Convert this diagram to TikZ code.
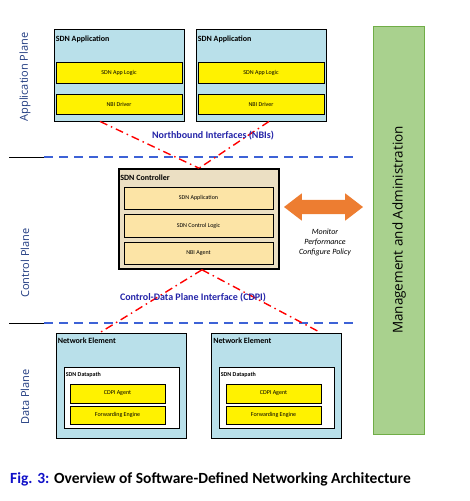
\documentclass[tikz,border=0pt]{standalone}
\usepackage{fontspec}
\setmainfont{Carlito}
\newfontfamily\planefont{Open Sans}
\usetikzlibrary{calc,arrows.meta,shapes.arrows}
\definecolor{appblue}{HTML}{B9E0EA}
\definecolor{ctrltan}{HTML}{EBDFC3}
\definecolor{ctrlbox}{HTML}{FCE4A6}
\definecolor{mgmtgreen}{HTML}{A9D18E}
\definecolor{mgmtedge}{HTML}{70AD47}
\definecolor{arroworange}{HTML}{ED7D31}
\definecolor{dividerblue}{HTML}{3D62D6}
\definecolor{ifaceblue}{HTML}{2424A8}
\definecolor{planeblue}{HTML}{1F3A80}
\definecolor{figblue}{HTML}{1010C8}

\begin{document}
\begin{tikzpicture}[x=1pt,y=-1pt,
  outerbox/.style={draw=black,line width=0.9pt,fill=appblue,inner sep=0pt},
  yelbox/.style={draw=black,line width=0.7pt,fill=yellow,inner sep=0pt,font=\fontsize{6}{7}\selectfont},
  ctrlsub/.style={draw=black,line width=0.7pt,fill=ctrlbox,inner sep=0pt,font=\fontsize{6}{7}\selectfont},
  boxtitle/.style={anchor=north west,inner xsep=2pt,inner ysep=0pt,yshift=-7pt,font=\bfseries\fontsize{8}{9}\selectfont},
  smalltitle/.style={anchor=north west,inner xsep=1.5pt,inner ysep=0pt,yshift=-5pt,font=\bfseries\fontsize{6}{7}\selectfont},
  plane/.style={rotate=90,text=planeblue,font=\planefont\fontsize{11}{12}\selectfont},
  iface/.style={text=ifaceblue,font=\bfseries\fontsize{10}{11}\selectfont},
  divider/.style={dividerblue,line width=1.1pt,dash pattern=on 9pt off 6pt},
  redlink/.style={red,line width=1.4pt,dash pattern=on 8pt off 4pt on 1.5pt off 4pt}]
  \useasboundingbox (0,0) rectangle (469,501);

  % management column
  \node[draw=mgmtedge,line width=0.8pt,fill=mgmtgreen,minimum width=51,minimum height=408,inner sep=0pt] (mgmt) at (399,230) {};
  \node[rotate=90,font=\planefont\fontsize{13.5}{14}\selectfont] at (mgmt.center) {Management and Administration};

  % plane labels and dividers
  \node[plane] (aplane) at (25,77) {Application Plane};
  \node[plane] (cplane) at (25,263) {Control Plane};
  \node[plane] (dplane) at (25,397) {Data Plane};
  \draw[black,line width=0.7pt] (9,157) -- (50,157);
  \draw[divider] (44,157) -- (358,157);
  \draw[black,line width=0.7pt] (9,323) -- (44,323);
  \draw[divider] (44,323) -- (356,323);

  % application plane
  \foreach \n/\cx in {1/119,2/261}{
    \node[outerbox,minimum width=130,minimum height=92] (app\n) at (\cx,75) {};
    \node[boxtitle] at (app\n.north west) {SDN Application};
    \node[yelbox,minimum width=126,minimum height=21] (logic\n) at (\cx,72.5) {SDN App Logic};
    \node[yelbox,minimum width=126,minimum height=20] (nbi\n) at (\cx,104) {NBI Driver};
  }

  % controller
  \node[draw=black,line width=1.6pt,fill=ctrltan,minimum width=160,minimum height=100,inner sep=0pt] (ctrl) at (199,219) {};
  \node[boxtitle,yshift=1pt] at (ctrl.north west) {SDN Controller};
  \node[ctrlsub,minimum width=149,minimum height=22] (capp) at (198.5,198) {SDN Application};
  \node[ctrlsub,minimum width=149,minimum height=23] (clogic) at (198.5,225.5) {SDN Control Logic};
  \node[ctrlsub,minimum width=149,minimum height=22] (cagent) at (198.5,253) {NBI Agent};

  % arrow to management
  \node[double arrow,fill=arroworange,minimum height=79,inner xsep=0pt,inner ysep=7pt,double arrow head extend=6.5pt,double arrow tip angle=75] (mon) at (323.5,207) {};
  \node[align=center,font=\itshape\fontsize{8}{10}\selectfont] (montxt) at (325,242) {Monitor\\Performance\\Configure Policy};

  % data plane
  \foreach \n/\cx/\wx/\yx in {1/121/122/117.5,2/276.5/277/273.5}{
    \node[outerbox,minimum width=130,minimum height=105] (ne\n) at (\cx,385.5) {};
    \node[boxtitle,yshift=1.5pt] at (ne\n.north west) {Network Element};
    \node[draw=black,line width=0.8pt,fill=white,minimum width=115,minimum height=61,inner sep=0pt] (dp\n) at (\wx,397.5) {};
    \node[smalltitle] at (dp\n.north west) {SDN Datapath};
    \node[yelbox,minimum width=95,minimum height=19] (cdpi\n) at (\yx,393.5) {CDPI Agent};
    \node[yelbox,minimum width=95,minimum height=18] (fwd\n) at (\yx,415) {Forwarding Engine};
  }

  % interfaces
  \draw[redlink] ($(app1.south)+(-19,0)$) -- (ctrl.north);
  \draw[redlink] ($(app2.south)+(8,0)$) -- (ctrl.north);
  \draw[redlink] ($(ctrl.south)+(3,0)$) -- ($(ne1.north)+(-21,0)$);
  \draw[redlink] ($(ctrl.south)+(3,0)$) -- ($(ne2.north)+(44,0)$);
  \node[iface] (nbis) at (213,136) {Northbound Interfaces (NBIs)};
  \node[iface] (cdpis) at (193,298) {Control-Data Plane Interface (CDPI)};

  % caption
  \node[anchor=west,inner sep=0pt,font=\bfseries\fontsize{15.5}{17}\selectfont] (cap) at (10,479) {\textcolor{figblue}{Fig. 3:} Overview of Software-Defined Networking Architecture};
\end{tikzpicture}
\end{document}
